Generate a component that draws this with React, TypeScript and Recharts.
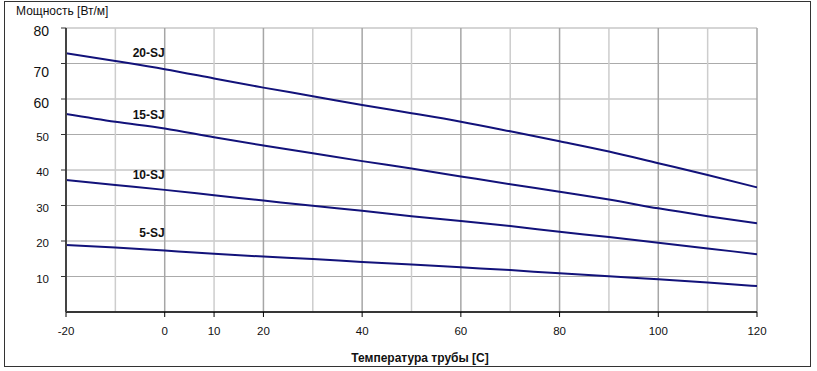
import React from 'react';
import { LineChart, Line, XAxis, YAxis, CartesianGrid, ReferenceLine, ReferenceDot } from 'recharts';

// pipe temperature, deg C
const temps = [-20, -10, 0, 10, 20, 30, 40, 50, 60, 70, 80, 90, 100, 110, 120];

// output, W/m, per cable type
const sj20 = [72.9, 70.7, 68.4, 65.8, 63.2, 60.8, 58.3, 56.0, 53.6, 50.9, 48.1, 45.2, 41.9, 38.6, 35.1];
const sj15 = [55.8, 53.6, 51.7, 49.2, 46.9, 44.7, 42.5, 40.4, 38.2, 36.0, 33.9, 31.7, 29.2, 27.0, 25.0];
const sj10 = [37.2, 35.8, 34.4, 32.9, 31.4, 29.9, 28.5, 27.0, 25.6, 24.2, 22.6, 21.1, 19.5, 17.9, 16.3];
const sj5 = [18.9, 18.2, 17.3, 16.4, 15.6, 14.9, 14.1, 13.4, 12.6, 11.8, 10.9, 10.1, 9.2, 8.3, 7.3];

const xTicks = [-20, 0, 10, 20, 40, 60, 80, 100, 120];
const yTicks = [10, 20, 30, 40, 50, 60, 70, 80];
const gridTemps = [-10, 0, 10, 20, 30, 40, 50, 60, 70, 80, 90, 100, 110, 120];

// series name labels: text, anchor temperature, anchor value
const labelNames = ['20-SJ', '15-SJ', '10-SJ', '5-SJ'];
const labelTemps = [0, 0, 0, 0];
const labelValues = [73.0, 55.5, 38.6, 22.2];

const data = temps.map((t, i) => ({
  t,
  s20: sj20[i],
  s15: sj15[i],
  s10: sj10[i],
  s5: sj5[i],
}));

const FONT = '"Liberation Sans", Arial, sans-serif';
const LINE_COLOR = '#12127a';

const bigTicks: Record<number, { size: number; dy: number }> = {
  80: { size: 14, dy: 3 },
  70: { size: 14, dy: 8 },
  60: { size: 14, dy: 4 },
};

function YTick(props: any) {
  const { x, y, payload } = props;
  const st = bigTicks[payload.value] || { size: 11.5, dy: 2 };
  return (
    <text
      x={x}
      y={y + st.dy}
      textAnchor="end"
      dominantBaseline="central"
      fontSize={st.size}
      fontFamily={FONT}
      fill="#111"
    >
      {payload.value}
    </text>
  );
}

function SeriesLabel(text: string) {
  return (props: any) => (
    <text
      x={props.cx}
      y={props.cy}
      textAnchor="end"
      dominantBaseline="central"
      fontSize={12}
      fontWeight="bold"
      fontFamily={FONT}
      fill="#111"
    >
      {text}
    </text>
  );
}

export default function App() {
  return (
    <div style={{ position: 'absolute', left: 0, top: 0, width: 817, height: 371, background: '#fff', fontFamily: FONT }}>
      <div
        style={{
          position: 'absolute',
          left: 4,
          top: 1,
          width: 805,
          height: 364,
          border: '1.5px solid #333',
        }}
      />
      <div style={{ position: 'absolute', left: 16, top: 4, fontSize: 12, color: '#111' }}>Мощность [Вт/м]</div>
      <div
        style={{
          position: 'absolute',
          left: 0,
          width: 840,
          top: 351,
          textAlign: 'center',
          fontSize: 12,
          fontWeight: 'bold',
          color: '#111',
        }}
      >
        Температура трубы [С]
      </div>
      <div style={{ position: 'absolute', left: 0, top: 0 }}>
        <LineChart width={817} height={371} data={data} margin={{ top: 28, right: 60, bottom: 29, left: 6 }}>
          <CartesianGrid vertical={false} stroke="#ababab" strokeWidth={1.2} />
          {gridTemps.map((g) => (
            <ReferenceLine
              key={g}
              x={g}
              stroke={g % 20 === 0 ? '#a6a6a6' : '#cdcdcd'}
              strokeWidth={1.5}
            />
          ))}
          <XAxis
            dataKey="t"
            type="number"
            domain={[-20, 120]}
            ticks={xTicks}
            height={30}
            tickSize={5}
            tickMargin={10}
            axisLine={{ stroke: '#000', strokeWidth: 1.5 }}
            tickLine={{ stroke: '#000' }}
            tick={{ fontSize: 11.5, fill: '#111', fontFamily: FONT }}
            allowDataOverflow
          />
          <YAxis
            type="number"
            domain={[0, 80]}
            ticks={yTicks}
            width={60}
            tickSize={5}
            tickMargin={12}
            axisLine={{ stroke: '#444', strokeWidth: 2 }}
            tickLine={{ stroke: '#333' }}
            tick={<YTick />}
            allowDataOverflow
          />
          <Line type="monotone" dataKey="s20" stroke={LINE_COLOR} strokeWidth={2} dot={false} isAnimationActive={false} />
          <Line type="monotone" dataKey="s15" stroke={LINE_COLOR} strokeWidth={2} dot={false} isAnimationActive={false} />
          <Line type="monotone" dataKey="s10" stroke={LINE_COLOR} strokeWidth={2} dot={false} isAnimationActive={false} />
          <Line type="monotone" dataKey="s5" stroke={LINE_COLOR} strokeWidth={2} dot={false} isAnimationActive={false} />
          {labelNames.map((name, i) => (
            <ReferenceDot
              key={name}
              x={labelTemps[i]}
              y={labelValues[i]}
              r={0}
              shape={SeriesLabel(name)}
            />
          ))}
        </LineChart>
      </div>
    </div>
  );
}
